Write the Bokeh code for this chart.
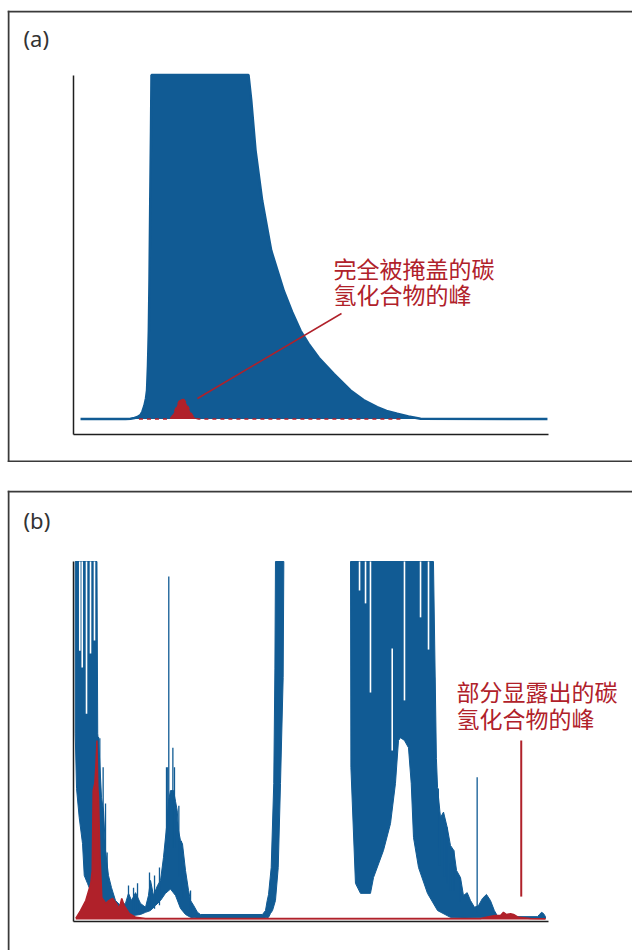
import numpy as np
from bokeh.plotting import figure
from bokeh.layouts import column
from bokeh.models import Label, Range1d, LinearAxis, FixedTicker, Span
from bokeh.embed import file_html
from bokeh.resources import INLINE

# ---------------- data (retention time in min, signal in % of full scale) ----------------
# panel (a): coeluting peaks, hydrocarbon peak completely hidden
a_blue_t = [0.74, 5.47, 6.0, 6.42, 6.74, 7.05, 7.26, 7.47, 7.63, 7.74, 7.84, 7.93, 8.0, 8.08,
            8.16, 8.21, 18.42, 18.71, 19.16, 19.86, 20.81, 22.14, 23.0, 23.89, 24.74, 25.82,
            27.4, 29.16, 30.53, 31.97, 32.95, 34.07, 35.26, 36.53, 49.89]
a_blue_i = [0, 0, 0.06, 0.29, 0.58, 1.16, 2.18, 3.92, 5.96, 8.28, 15.55, 25.7, 40.3, 63.5,
            83.9, 100, 100, 92.6, 78.1, 63.5, 49.0, 37.2, 31.2, 25.7, 21.9, 17.8,
            13.1, 8.3, 5.5, 3.43, 2.33, 1.51, 0.73, 0.06, 0]
a_red_t = [6.89, 10.11, 10.37, 10.6, 10.92, 11.1, 11.26, 11.44, 11.61, 11.79, 11.97, 12.32,
           12.53, 12.84, 13.19, 34.42]
a_red_i = [0, 0, 0.73, 2.0, 4.0, 5.1, 5.6, 5.87, 5.67, 4.94, 4.0, 1.98, 1.0, 0.2, 0, 0]
a_note_t = [28.21, 13.05]
a_note_i = [30.67, 5.96]
a_note_text = ["完全被掩盖的碳", "氢化合物的峰"]

# panel (b): hydrocarbon peak partially revealed
b_top_t = [0.18, 2.47, 2.55, 2.74, 2.95, 3.16, 3.37, 3.68, 4.0, 4.42, 4.95, 5.47, 5.79, 6.11,
           6.53, 7.05, 7.58, 7.89, 8.11, 8.42, 8.84, 9.16, 9.47, 9.79, 10.0, 10.21, 10.53,
           10.74, 10.92, 11.05, 11.26, 11.47, 11.79, 12.11, 12.32, 12.63, 13.05, 13.37, 19.89,
           20.21, 20.39, 20.53, 20.81, 21.08, 21.2, 21.26, 22.14,
           29.16, 37.89, 38.2, 38.32, 38.63, 38.95,
           39.34, 39.68, 40.03, 40.32, 40.74, 41.05, 41.44, 41.79, 42.21, 42.63, 43.05, 43.47,
           43.89, 44.3, 44.6, 44.95, 48.84, 49.05, 49.26, 49.47, 49.68]
b_top_i = [100, 100, 52.0, 45.3, 34.0, 30.4, 19.3, 12.3, 8.9, 5.3, 3.9, 4.5, 7.3, 5.3,
           7.5, 4.5, 3.4, 6.7, 10.9, 6.7, 9.5, 10.9, 17.3, 25.7, 33.0, 36.0, 36.0,
           33.0, 30.4, 24.9, 22.1, 21.2, 13.7, 8.1, 5.3, 4.0, 2.0, 1.4, 1.4,
           2.5, 5.3, 7.0, 14.5, 38.0, 70.0, 100, 100,
           100, 100, 45.0, 36.9, 28.5, 30.0,
           25.7, 20.7, 19.3, 13.7, 11.7, 6.7, 7.5, 5.3, 3.4, 3.9, 5.9, 7.0,
           5.3, 2.5, 1.1, 0.8, 0.8, 1.4, 2.0, 1.7, 0.8]
b_low_t = [0.18, 0.32, 0.6, 0.95, 1.13, 1.47, 1.65, 2.0, 2.42, 2.84, 3.37, 3.89, 4.42, 5.47,
           7.05, 7.58, 8.11, 8.63, 9.16, 9.68, 10.21, 10.74, 11.26, 11.79, 12.32, 13.37,
           19.89, 20.53, 20.74, 20.95, 21.26, 21.55, 21.79, 22.07, 22.14,
           29.16, 29.2, 29.68,
           30.21, 31.26, 31.58, 32.63, 33.37, 33.89, 34.21, 34.42, 34.84, 35.26, 35.55, 35.79,
           36.32, 37.26, 38.32, 39.68, 49.68]
b_low_i = [52.0, 36.6, 28.5, 21.2, 12.3, 10.1, 8.9, 6.1, 4.5, 2.5, 1.7, 1.1, 0.8, 0.8,
           1.4, 2.0, 2.5, 3.9, 5.3, 7.3, 8.5, 6.7, 3.1, 1.4, 0.6, 0.3,
           0.3, 0.6, 1.7, 2.5, 5.3, 14.5, 38.0, 67.6, 100,
           100, 42.5, 10.1,
           7.3, 7.3, 11.7, 19.3, 26.8, 38.0, 50.0, 50.8, 50.0, 48.0, 38.0, 22.9,
           14.5, 7.3, 2.5, 0.6, 0.3]
b_offscale = (22.14, 29.16)   # signal above full scale between these times
b_spike_t = [2.63, 2.77, 3.12, 3.37, 3.54, 5.79, 6.32, 6.74, 8.0, 8.53, 9.05,
             9.79, 9.92, 10.03, 10.46, 10.63, 11.09, 11.35, 11.52, 12.32,
             38.0, 38.4, 38.53, 39.05, 39.34, 39.68, 40.03, 40.65, 42.49]
b_spike_foot = [30, 30, 20, 15, 10, 2, 2, 2, 3, 3, 4,
                15, 20, 20, 20, 20, 12, 8, 6, 2,
                40, 20, 15, 12, 10, 8, 8, 5, 2]
b_spike_top = [51.0, 50.6, 42.5, 32.4, 18.7, 9.5, 8.9, 10.1, 13.1, 12.3, 14.5,
               42.5, 42.5, 95.8, 48.0, 42.5, 31.8, 22.0, 14.5, 8.1,
               67.6, 36.6, 29.6, 27.7, 25.8, 15.6, 19.3, 11.8, 39.7]
# short drop-outs inside the saturated clusters
b_gap_t = [0.66, 0.92, 1.37, 1.79, 2.21, 30.11, 30.74, 31.26, 33.55, 34.84, 36.53, 37.37]
b_gap_low = [75.1, 70.4, 57.5, 74.3, 77.9, 91.9, 88.3, 63.4, 47.2, 61.2, 84.4, 75.4]
b_gap_high = [100, 100, 100, 100, 100, 100, 100, 100, 75.7, 100, 100, 100]
b_red_t = [0.24, 0.74, 1.29, 1.82, 1.97, 2.07, 2.24, 2.35, 2.47, 2.56, 2.63, 2.77, 2.98, 3.19,
           3.4, 3.72, 4.11, 4.45, 4.81, 5.08, 5.34, 5.86, 6.56, 7.58, 42.84, 43.7, 44.4, 44.95,
           45.26, 45.58, 46.0, 46.32, 46.84, 48.1, 49.68]
b_red_i = [0.3, 2.5, 5.3, 10.1, 13.7, 36.0, 38.0, 42.5, 50.0, 36.9, 34.1, 19.3, 6.1, 5.3,
           4.5, 5.3, 5.9, 4.7, 3.1, 5.9, 3.9, 1.7, 0.6, 0.3, 0.3, 0.8, 1.1, 1.1,
           2.0, 1.4, 1.6, 1.4, 0.6, 0.3, 0.2]
b_note_t = [47.13, 47.13]
b_note_i = [6.4, 50.0]
b_note_text = ["部分显露出的碳", "氢化合物的峰"]

# ---------------- styling / layout ----------------
BLUE = "#115b94"
RED = "#b0212a"
AXIS = "#1e1e1e"
FRAME = "#3a3a3a"
CJK = "Noto Sans CJK SC"
LATIN = "Noto Sans"

W = 625
H_A, H_B = 452, 460
PX_PER_MIN = 9.5
AXIS_X0 = 73            # page x of time 0
CANVAS_X0 = 7           # page x of canvas left
A_TOP, B_TOP = 10, 490  # page y of canvas tops
A_BASE, A_PX = 418.5, 3.44   # page y of zero signal, px per % (a)
B_BASE, B_PX = 919.0, 3.58   # (b)
BORDER_W = 2

x0 = (CANVAS_X0 - AXIS_X0) / PX_PER_MIN
xr = (x0, x0 + W / PX_PER_MIN)
yr_a = ((A_BASE - (A_TOP + H_A)) / A_PX, (A_BASE - A_TOP) / A_PX)
yr_b = ((B_BASE - (B_TOP + H_B)) / B_PX, (B_BASE - B_TOP) / B_PX)


def make_fig(h, yr, styles):
    p = figure(width=W, height=h, x_range=Range1d(*xr), y_range=Range1d(*yr),
               x_axis_type=None, y_axis_type=None, toolbar_location=None,
               output_backend="svg", min_border=0, min_border_left=0, min_border_right=0,
               min_border_top=0, min_border_bottom=0, outline_line_color=None,
               background_fill_color="white", border_fill_color="white")
    p.styles = styles
    return p


def add_box(p, yr, px_per_unit, sides):
    half_x = BORDER_W / 2 / PX_PER_MIN
    half_y = BORDER_W / 2 / px_per_unit
    locs = {"left": (xr[0] + half_x, "height"), "top": (yr[1] - half_y, "width"),
            "bottom": (yr[0] + half_y, "width")}
    for s in sides:
        loc, dim = locs[s]
        p.add_layout(Span(location=loc, dimension=dim, line_color=FRAME,
                          line_width=BORDER_W))


def add_axes(p, y_axis_bottom, y_axis_top):
    xa = LinearAxis(fixed_location=y_axis_bottom, bounds=(0, 50), ticker=FixedTicker(ticks=[]),
                    axis_line_color=AXIS, axis_line_width=1.5,
                    major_tick_line_color=None, minor_tick_line_color=None,
                    major_label_text_color=None)
    ya = LinearAxis(fixed_location=0, bounds=(y_axis_bottom, y_axis_top),
                    ticker=FixedTicker(ticks=[]),
                    axis_line_color=AXIS, axis_line_width=1.5,
                    major_tick_line_color=None, minor_tick_line_color=None,
                    major_label_text_color=None)
    p.add_layout(xa, "below")
    p.add_layout(ya, "left")


pa = make_fig(H_A, yr_a, {"margin-top": "%dpx" % A_TOP, "margin-left": "%dpx" % CANVAS_X0})
pb = make_fig(H_B, yr_b, {"margin-left": "%dpx" % CANVAS_X0})

# ---- panel (a)
add_box(pa, yr_a, A_PX, ["left", "top", "bottom"])
add_axes(pa, (A_BASE - 434) / A_PX, (A_BASE - 75) / A_PX)
pa.varea(x=a_blue_t, y1=0, y2=np.minimum(a_blue_i, 100), fill_color=BLUE)
pa.line(a_blue_t, a_blue_i, line_color=BLUE, line_width=2.5)
pa.varea(x=a_red_t, y1=0, y2=a_red_i, fill_color=RED)
pa.line(a_red_t, a_red_i, line_color=RED, line_width=1.5, line_dash="4 4")
pa.line(a_note_t, a_note_i, line_color=RED, line_width=1.5)
pa.add_layout(Label(x=(23 - AXIS_X0) / PX_PER_MIN, y=(A_BASE - 37.5) / A_PX, text="(a)",
                    text_font=LATIN, text_font_size="22px", text_color="#333333",
                    text_baseline="middle"))
for k, txt in enumerate(a_note_text):
    pa.add_layout(Label(x=(333 - AXIS_X0) / PX_PER_MIN, y=(A_BASE - (267.5 + 26 * k)) / A_PX,
                        text=txt, text_font=CJK, text_font_size="23px", text_color=RED,
                        text_baseline="middle"))

# ---- panel (b)
add_box(pb, yr_b, B_PX, ["left", "top"])
add_axes(pb, (B_BASE - 920.5) / B_PX, 100)
top_t, top_i = np.array(b_top_t), np.minimum(b_top_i, 100)
low_t, low_i = np.array(b_low_t), np.minimum(b_low_i, 100)
polys_t, polys_i = [], []
for lo, hi in [(-1, b_offscale[0]), (b_offscale[1], 99)]:
    mt = (top_t >= lo) & (top_t <= hi)
    ml = (low_t >= lo) & (low_t <= hi)
    polys_t.append(list(top_t[mt]) + list(low_t[ml][::-1]))
    polys_i.append(list(top_i[mt]) + list(low_i[ml][::-1]))
pb.patches(polys_t, polys_i, fill_color=BLUE, line_color=BLUE, line_width=1)
pb.segment(x0=b_spike_t, y0=b_spike_foot, x1=b_spike_t, y1=b_spike_top,
           line_color=BLUE, line_width=1.3)
pb.segment(x0=b_gap_t, y0=b_gap_low, x1=b_gap_t, y1=b_gap_high,
           line_color="white", line_width=1.6)
pb.varea(x=b_red_t, y1=0, y2=b_red_i, fill_color=RED)
pb.line(b_red_t, b_red_i, line_color=RED, line_width=1.5)
pb.line(b_note_t, b_note_i, line_color=RED, line_width=2)
pb.add_layout(Label(x=(23 - AXIS_X0) / PX_PER_MIN, y=(B_BASE - 519) / B_PX, text="(b)",
                    text_font=LATIN, text_font_size="22px", text_color="#333333",
                    text_baseline="middle"))
for k, txt in enumerate(b_note_text):
    pb.add_layout(Label(x=(456 - AXIS_X0) / PX_PER_MIN, y=(B_BASE - (690 + 27 * k)) / B_PX,
                        text=txt, text_font=CJK, text_font_size="23px", text_color=RED,
                        text_baseline="middle"))

layout = column(pa, pb, spacing=B_TOP - (A_TOP + H_A))
open("out.html", "w").write(file_html(layout, INLINE))
